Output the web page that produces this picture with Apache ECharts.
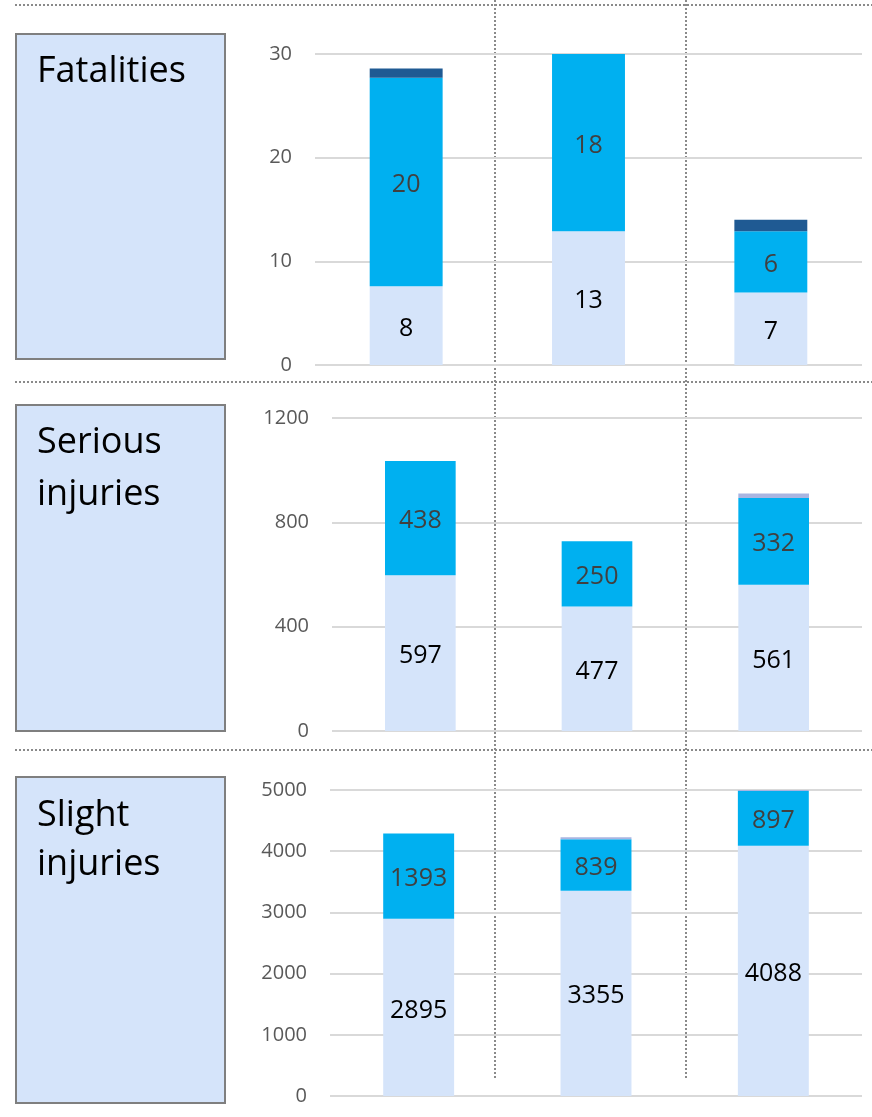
<!DOCTYPE html>
<html>
<head>
<meta charset="utf-8">
<title>Casualties</title>
<script src="https://cdn.jsdelivr.net/npm/echarts@6.0.0/dist/echarts.min.js"></script>
<style>
html, body { margin: 0; padding: 0; background: #fff; }
#chart { width: 872px; height: 1117px; }
</style>
</head>
<body>
<div id="chart"></div>
<script type="text/javascript">
// three groups per panel (no axis labels shown in the original)
var categories = ['1', '2', '3'];

// Fatalities
var fatalLight = [7.6, 12.9, 7.0];
var fatalMid = [20.1, 18, 5.9];
var fatalDark = [0.9, 1, 1.1];

// Serious injuries
var seriousLight = [597, 477, 561];
var seriousMid = [438, 250, 332];
var seriousTop = [0, 0, 18];

// Slight injuries
var slightLight = [2895, 3355, 4088];
var slightMid = [1393, 839, 897];
var slightTop = [0, 35, 20];

var panelTitles = [['Fatalities'], ['Serious', 'injuries'], ['Slight', 'injuries']];
var yMax = [30, 1200, 5000];
var yStep = [10, 400, 1000];

var FONT = '"Open Sans", "Noto Sans", sans-serif';
var LIGHT = '#D5E4FA', MID = '#00B0F0', DARK = '#1F5A93', LILAC = '#A9B5E1';

var grids = [
    {left: 315, top: 54, width: 547, height: 311},
    {left: 332, top: 418, width: 530, height: 313},
    {left: 330, top: 790, width: 532, height: 306}
];

var seriesData = [
    [fatalLight, fatalMid, fatalDark],
    [seriousLight, seriousMid, seriousTop],
    [slightLight, slightMid, slightTop]
];
var segColors = [
    [LIGHT, MID, DARK],
    [LIGHT, MID, LILAC],
    [LIGHT, MID, LILAC]
];

function roundLabel(p) {
    return Math.round(p.value);
}

var xAxes = [], yAxes = [], series = [];
for (var i = 0; i < 3; i++) {
    xAxes.push({
        type: 'category',
        gridIndex: i,
        data: categories,
        axisLine: {show: false},
        axisTick: {show: false},
        axisLabel: {show: false}
    });
    yAxes.push({
        type: 'value',
        gridIndex: i,
        min: 0,
        max: yMax[i],
        interval: yStep[i],
        axisLine: {show: false},
        axisTick: {show: false},
        axisLabel: {
            color: '#595959', fontSize: 20, fontFamily: FONT, margin: 23,
            formatter: function (v) { return String(v); }
        },
        splitLine: {lineStyle: {color: '#d9d9d9', width: 2}}
    });
    for (var j = 0; j < 3; j++) {
        series.push({
            type: 'bar',
            xAxisIndex: i,
            yAxisIndex: i,
            stack: 'p' + i,
            barWidth: '40%',
            data: seriesData[i][j],
            itemStyle: {color: segColors[i][j]},
            label: {
                show: j < 2,
                position: 'inside',
                offset: [0, 3],
                formatter: roundLabel,
                color: j == 0 ? '#000' : '#404040',
                fontSize: 25,
                fontFamily: FONT
            },
            silent: true
        });
    }
}

// label boxes on the left
var graphics = [];
var boxes = [
    {y: 34, h: 325, lines: [72]},
    {y: 405, h: 326, lines: [443, 495]},
    {y: 777, h: 326, lines: [816, 865]}
];
boxes.forEach(function (b, i) {
    graphics.push({
        type: 'rect',
        shape: {x: 16, y: b.y, width: 209, height: b.h},
        style: {fill: LIGHT, stroke: '#7f7f7f', lineWidth: 2}
    });
    b.lines.forEach(function (ly, k) {
        graphics.push({
            type: 'text',
            x: 37,
            y: ly,
            style: {
                text: panelTitles[i][k],
                fill: '#000',
                font: '36px ' + FONT,
                verticalAlign: 'middle'
            }
        });
    });
});

// dotted separators
var dotted = {stroke: '#8a8a8a', lineWidth: 2, lineDash: [2, 2]};
[5, 382, 750].forEach(function (y) {
    graphics.push({type: 'line', shape: {x1: 15, y1: y, x2: 872, y2: y}, style: dotted, z: 0});
});
[495, 686].forEach(function (x) {
    graphics.push({type: 'line', shape: {x1: x, y1: 0, x2: x, y2: 1080}, style: dotted, z: 0});
});

var myChart = echarts.init(document.getElementById('chart'));
var option = {
    backgroundColor: '#fff',
    animation: false,
    grid: grids,
    xAxis: xAxes,
    yAxis: yAxes,
    series: series,
    graphic: graphics
};
myChart.setOption(option);
</script>
</body>
</html>
